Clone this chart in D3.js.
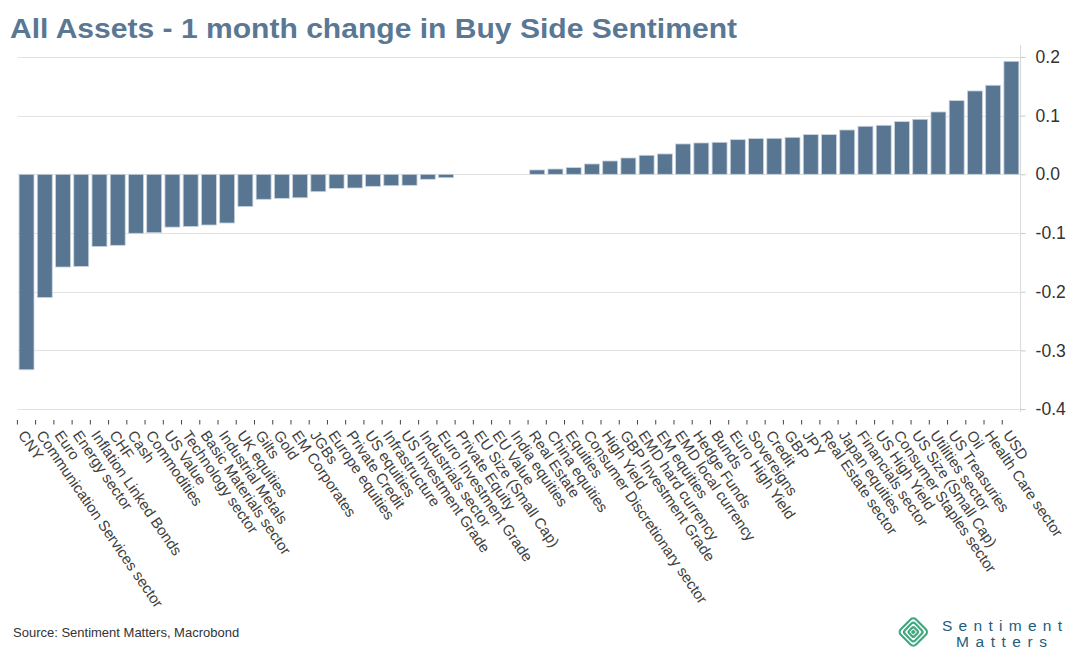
<!DOCTYPE html>
<html>
<head>
<meta charset="utf-8">
<script src="https://cdn.jsdelivr.net/npm/d3@7/dist/d3.min.js"></script>
<style>
  html, body { margin: 0; padding: 0; background: #fff; }
  svg { display: block; }
  text { font-family: "Liberation Sans", Arial, sans-serif; }
</style>
</head>
<body>
<svg id="chart" width="1072" height="660"></svg>
<script>
const categories = [
  "CNY", "Communication Services sector", "Euro", "Energy sector", "Inflation Linked Bonds",
  "CHF", "Cash", "Commodities", "US Value", "Technology sector",
  "Basic Materials sector", "Industrial Metals", "UK equities", "Gilts", "Gold",
  "EM Corporates", "JGBs", "Europe equities", "Private Credit", "US equities",
  "Infrastructure", "US Investment Grade", "Industrials sector", "Euro Investment Grade", "Private Equity",
  "EU Size (Small Cap)", "EU Value", "India equities", "Real Estate", "China equities",
  "Equities", "Consumer Discretionary sector", "High Yield", "GBP Investment Grade", "EMD hard currency",
  "EM equities", "EMD local currency", "Hedge Funds", "Bunds", "Euro High Yield",
  "Sovereigns", "Credit", "GBP", "JPY", "Real Estate sector",
  "Japan equities", "Financials sector", "US High Yield", "Consumer Staples sector", "US Size (Small Cap)",
  "Utilities sector", "US Treasuries", "Oil", "Health Care sector", "USD"
];
const values = [
  -0.333, -0.210, -0.158, -0.157, -0.123,
  -0.121, -0.1005, -0.0995, -0.090, -0.089,
  -0.0864, -0.083, -0.055, -0.0426, -0.041,
  -0.040, -0.0296, -0.024, -0.0233, -0.0205,
  -0.0194, -0.0188, -0.0085, -0.0058, 0.0,
  0.0, 0.0, 0.0, 0.0074, 0.009,
  0.0114, 0.0176, 0.0227, 0.0278, 0.0324,
  0.0347, 0.0517, 0.0534, 0.0545, 0.059,
  0.0608, 0.0613, 0.063, 0.0676, 0.0676,
  0.0755, 0.0818, 0.0835, 0.0897, 0.0937,
  0.1062, 0.1255, 0.142, 0.1517, 0.1925
];
const yTicks = [0.2, 0.1, 0.0, -0.1, -0.2, -0.3, -0.4];
const title = "All Assets - 1 month change in Buy Side Sentiment";
const source = "Source: Sentiment Matters, Macrobond";

const svg = d3.select("#chart");

const x = d3.scaleBand()
  .domain(categories)
  .range([17.4, 1020.5])
  .paddingInner(0.18)
  .paddingOuter(0.09);

const y = d3.scaleLinear()
  .domain([-0.4, 0.2])
  .range([409.1, 56.9]);

const axisX = 1020.6;

// gridlines
svg.append("g").selectAll("line")
  .data(yTicks)
  .join("line")
  .attr("x1", 17.4).attr("x2", axisX)
  .attr("y1", d => Math.round(y(d)) + 0.5).attr("y2", d => Math.round(y(d)) + 0.5)
  .attr("stroke", "#e3e3e3").attr("stroke-width", 1);

// right axis
const fmt = d3.format(".1f");
const yAxis = d3.axisRight(y)
  .tickValues(yTicks)
  .tickSize(5)
  .tickPadding(10)
  .tickFormat(d => fmt(d).replace("\u2212", "-"));
const ga = svg.append("g")
  .attr("transform", `translate(${axisX},0)`)
  .call(yAxis);
ga.select(".domain").remove();
ga.selectAll(".tick line").attr("stroke", "#c8c8c8");
ga.selectAll(".tick text")
  .attr("fill", "#333")
  .attr("font-size", 17.5)
  .attr("font-family", "'Liberation Sans', Arial, sans-serif");
ga.append("line")
  .attr("x1", 0).attr("x2", 0)
  .attr("y1", y(0.22)).attr("y2", y(-0.405))
  .attr("stroke", "#d8d8d8");

// bars
svg.append("g").selectAll("rect")
  .data(categories.map((c, i) => ({ c, v: values[i] })))
  .join("rect")
  .attr("x", d => x(d.c))
  .attr("width", x.bandwidth())
  .attr("y", d => y(Math.max(0, d.v)))
  .attr("height", d => Math.abs(y(d.v) - y(0)))
  .attr("fill", "#587592")
  .attr("stroke", d => d.v === 0 ? "none" : "#c9d4de")
  .attr("stroke-width", 0.8);

// x ticks at band boundaries
const step = x.step();
svg.append("g").selectAll("line")
  .data(categories)
  .join("line")
  .attr("x1", d => x(d) - step * 0.09)
  .attr("x2", d => x(d) - step * 0.09)
  .attr("y1", 420).attr("y2", 424.5)
  .attr("stroke", "#444").attr("stroke-width", 1);

// x labels
svg.append("g").selectAll("text")
  .data(categories)
  .join("text")
  .attr("transform", d => `translate(${x(d) + x.bandwidth() / 2},429) rotate(55.5)`)
  .attr("dy", "0.72em")
  .attr("font-size", 15)
  .attr("fill", "#404040")
  .text(d => d);

// title
svg.append("text")
  .attr("x", 10).attr("y", 38)
  .attr("font-size", 28)
  .attr("font-weight", "bold")
  .attr("fill", "#5a7794")
  .attr("textLength", 727)
  .attr("lengthAdjust", "spacingAndGlyphs")
  .text(title);

// source
svg.append("text")
  .attr("x", 13).attr("y", 637)
  .attr("font-size", 13)
  .attr("fill", "#333")
  .text(source);

// logo
const logo = svg.append("g").attr("transform", "translate(913.3,632) rotate(45)");
[21.5, 14.5, 7.5].forEach(s => {
  logo.append("rect")
    .attr("x", -s / 2).attr("y", -s / 2)
    .attr("width", s).attr("height", s)
    .attr("rx", s * 0.18)
    .attr("fill", "none")
    .attr("stroke", "#3fa87f")
    .attr("stroke-width", 2.2);
});
logo.append("rect")
  .attr("x", -1.8).attr("y", -1.8).attr("width", 3.6).attr("height", 3.6)
  .attr("fill", "#3fa87f");

svg.append("text")
  .attr("x", 942).attr("y", 630.5)
  .attr("font-size", 15.5)
  .attr("fill", "#1e5d7c")
  .attr("textLength", 120)
  .attr("lengthAdjust", "spacing")
  .text("Sentiment");
svg.append("text")
  .attr("x", 956).attr("y", 646.5)
  .attr("font-size", 15.5)
  .attr("fill", "#1e5d7c")
  .attr("textLength", 91)
  .attr("lengthAdjust", "spacing")
  .text("Matters");
</script>
</body>
</html>
